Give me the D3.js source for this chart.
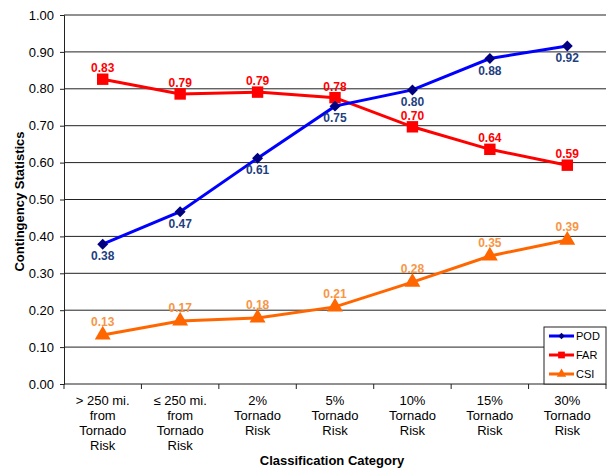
<!DOCTYPE html>
<html><head><meta charset="utf-8">
<script src="https://cdn.jsdelivr.net/npm/d3@7"></script>
<style>body{margin:0;background:#fff}svg{display:block;font-family:"Liberation Sans",Arial,sans-serif}</style>
</head><body>
<svg id="c" width="607" height="469"></svg>
<script>
const categories = [["> 250 mi.","from","Tornado","Risk"],["≤ 250 mi.","from","Tornado","Risk"],["2%","Tornado","Risk"],["5%","Tornado","Risk"],["10%","Tornado","Risk"],["15%","Tornado","Risk"],["30%","Tornado","Risk"]];
const pod = [0.379, 0.467, 0.612, 0.753, 0.797, 0.882, 0.916];
const far = [0.826, 0.786, 0.791, 0.776, 0.697, 0.636, 0.593];
const csi = [0.133, 0.171, 0.179, 0.209, 0.276, 0.347, 0.390];
const yTicks = [0,0.1,0.2,0.3,0.4,0.5,0.6,0.7,0.8,0.9,1.0];

const svg = d3.select("#c");
const L=64, R=606, T=15, B=384;
const x = d3.scaleBand().domain(d3.range(categories.length)).range([L,R]);
const y = d3.scaleLinear().domain([0,1]).range([B,T]);
const fmt = d3.format(".2f");

// gridlines
svg.append("g").selectAll("line").data(yTicks.slice(1)).join("line")
  .attr("x1",L).attr("x2",R).attr("y1",d=>y(d)).attr("y2",d=>y(d))
  .attr("stroke","#222").attr("stroke-width",1);

// y axis
const ya = svg.append("g").attr("transform",`translate(${L},0)`)
  .call(d3.axisLeft(y).tickValues(yTicks).tickFormat(fmt).tickSize(4).tickPadding(6));
ya.select(".domain").attr("stroke","#222");
ya.selectAll(".tick line").attr("stroke","#222");
ya.selectAll(".tick text").attr("font-size",13).attr("fill","#000").attr("font-family","Liberation Sans, Arial");

// x axis
svg.append("line").attr("x1",L).attr("x2",R).attr("y1",B).attr("y2",B).attr("stroke","#222");
svg.append("g").selectAll("line").data(d3.range(categories.length+1)).join("line")
  .attr("x1",i=>L+i*x.step()).attr("x2",i=>L+i*x.step()).attr("y1",B).attr("y2",B+5).attr("stroke","#222");
const xl = svg.append("g").selectAll("text").data(categories).join("text")
  .attr("x",(d,i)=>x(i)+x.bandwidth()/2).attr("y",405)
  .attr("text-anchor","middle").attr("font-size",13).attr("fill","#000");
xl.each(function(d){
  const t=d3.select(this);
  d.forEach((s,k)=>t.append("tspan").attr("x",t.attr("x")).attr("dy",k===0?0:15).text(s));
});

// axis titles
svg.append("text").attr("x",332).attr("y",465).attr("text-anchor","middle")
  .attr("font-size",13).attr("font-weight","bold").text("Classification Category");
svg.append("text").attr("transform",`translate(24,${(T+B)/2+2}) rotate(-90)`).attr("text-anchor","middle")
  .attr("font-size",13).attr("font-weight","bold").text("Contingency Statistics");

const cx = i=>x(i)+x.bandwidth()/2;
const line = d3.line().x((d,i)=>cx(i)).y(d=>y(d));

const series = [
  {name:"CSI", data:csi, color:"#FF6600", mcolor:"#FF6600", lcolor:"#F79646", shape:d3.symbolTriangle, size:110, rot:0, dy:-9},
  {name:"FAR", data:far, color:"#FF0000", mcolor:"#FF0000", lcolor:"#FF0000", shape:d3.symbolSquare, size:130, rot:0, dy:-7},
  {name:"POD", data:pod, color:"#0000FF", mcolor:"#000080", lcolor:"#1F3F7F", shape:d3.symbolSquare, size:60, rot:45, dy:16},
];
series.forEach(s=>{
  const g=svg.append("g");
  g.append("path").attr("d",line(s.data)).attr("fill","none").attr("stroke",s.color).attr("stroke-width",3);
  g.selectAll("path.m").data(s.data).join("path").attr("class","m")
    .attr("transform",(d,i)=>`translate(${cx(i)},${y(d)}) rotate(${s.rot})`)
    .attr("d",d3.symbol().type(s.shape).size(s.size)).attr("fill",s.mcolor);
  g.selectAll("text").data(s.data).join("text")
    .attr("x",(d,i)=>cx(i)).attr("y",d=>y(d)+s.dy)
    .attr("text-anchor","middle").attr("font-size",12).attr("font-weight","bold")
    .attr("fill",s.lcolor).text(d=>fmt(d));
});

// legend
const lg = svg.append("g");
lg.append("rect").attr("x",544).attr("y",327).attr("width",62).attr("height",57).attr("fill","#fff").attr("stroke","#222");
["POD","FAR","CSI"].forEach((n,k)=>{
  const s=series.find(q=>q.name===n);
  const yy=336+k*19;
  lg.append("line").attr("x1",549).attr("x2",574).attr("y1",yy).attr("y2",yy).attr("stroke",s.color).attr("stroke-width",3);
  lg.append("path").attr("transform",`translate(561.5,${yy}) rotate(${s.rot})`).attr("d",d3.symbol().type(s.shape).size(s.size*0.35)).attr("fill",s.mcolor);
  lg.append("text").attr("x",576).attr("y",yy+4).attr("font-size",11).attr("fill","#000").text(n);
});
</script>
</body></html>
